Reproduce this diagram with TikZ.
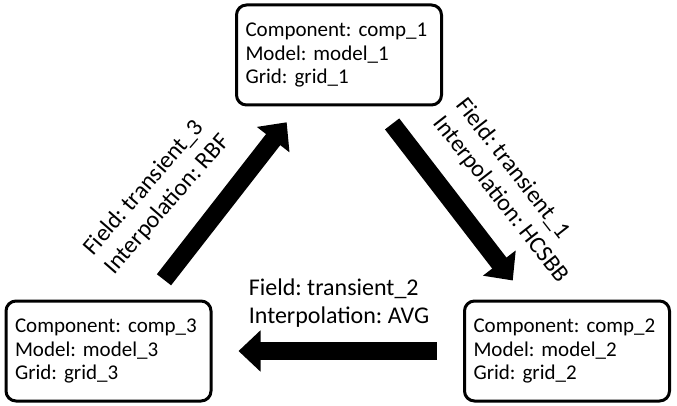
\documentclass[tikz,border=0pt]{standalone}
\usepackage{fontspec}
\setmainfont{Carlito}
\frenchspacing
\usetikzlibrary{arrows.meta}
\tikzstyle{block} = [rectangle, draw, line width=3pt, rounded corners=10pt,
    text width=187pt, inner xsep=9pt, align=left, minimum height=100pt,
    font=\fontsize{21}{23.5}\selectfont]
\tikzstyle{flow} = [line width=18pt, -{Triangle[length=22pt,width=40pt]}]
\tikzstyle{info} = [align=left, inner sep=0pt, font=\fontsize{24}{28.5}\selectfont]

\begin{document}
\begin{tikzpicture}[x=1pt,y=-1pt]
  \useasboundingbox (0,0) rectangle (677,406);

  \node[block] (C1) at (339,55)    {Component: comp\_1\\Model: model\_1\\Grid: grid\_1};
  \node[block] (C2) at (567,351)   {Component: comp\_2\\Model: model\_2\\Grid: grid\_2};
  \node[block] (C3) at (108.5,351) {Component: comp\_3\\Model: model\_3\\Grid: grid\_3};

  \draw[flow, shorten <=22pt, shorten >=24pt] (C1) -- (C2);
  \draw[flow, shorten <=26pt, shorten >=26pt] (C2) -- (C3);
  \draw[flow, shorten <=25pt, shorten >=20pt] (C3) -- (C1);

  \node[info, rotate=-52] (L1) at (512,191) {Field: transient\_1\\Interpolation: HCSBB};
  \node[info]             (L2) at (339,303) {Field: transient\_2\\Interpolation: AVG};
  \node[info, rotate=49]  (L3) at (157,195) {Field: transient\_3\\Interpolation: RBF};
\end{tikzpicture}
\end{document}
